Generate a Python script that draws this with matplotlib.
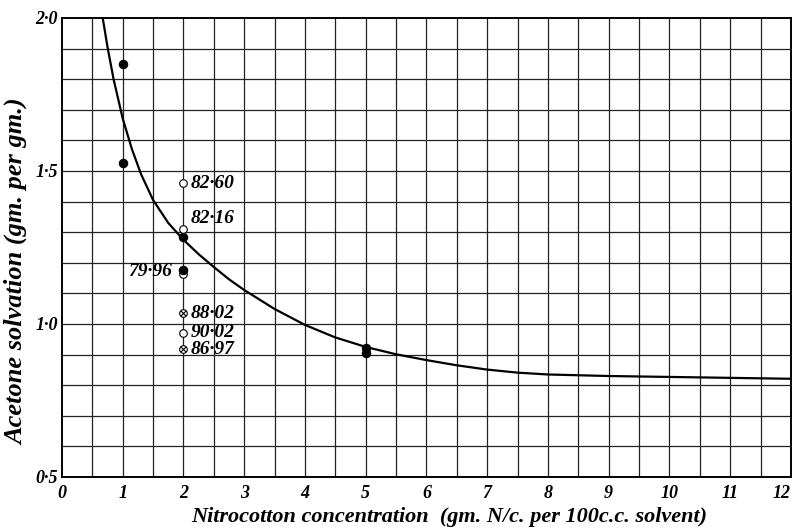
import matplotlib
matplotlib.use("Agg")
import matplotlib.pyplot as plt
import numpy as np

# smooth curve
curve_x = [0.67, 0.70, 0.75, 0.85, 1.0, 1.15, 1.3, 1.5, 1.75, 2.0, 2.25, 2.5, 2.75, 3.0,
           3.5, 4.0, 4.5, 5.0, 5.5, 6.0, 6.5, 7.0, 7.5, 8.0, 9.0, 10.0, 11.0, 12.0]
curve_y = [2.000, 1.964, 1.904, 1.799, 1.671, 1.572, 1.490, 1.405, 1.330, 1.275, 1.228,
           1.186, 1.146, 1.111, 1.049, 0.997, 0.956, 0.925, 0.901, 0.882, 0.865, 0.851,
           0.841, 0.835, 0.830, 0.827, 0.824, 0.821]

# filled points
solid_x = [1, 1, 2, 2, 5, 5]
solid_y = [1.849, 1.527, 1.283, 1.178, 0.921, 0.904]

# open points
open_x = [2, 2, 2, 2]
open_y = [1.460, 1.309, 0.972, 1.163]

# crossed points
cross_x = [2, 2]
cross_y = [1.035, 0.919]

# labels next to points
lab_text = ["82·60", "82·16", "79·96", "88·02", "90·02", "86·97"]
lab_x = [2.12, 2.12, 1.82, 2.12, 2.12, 2.12]
lab_y = [1.460, 1.345, 1.170, 1.035, 0.972, 0.917]
lab_ha = ["left", "left", "right", "left", "left", "left"]

xticks = list(range(0, 13))
yticks = [0.5, 1.0, 1.5, 2.0]
ytick_labels = ["0·5", "1·0", "1·5", "2·0"]

fnt = "Liberation Serif"

fig = plt.figure(figsize=(7.94, 5.29), dpi=100)
ax = fig.add_axes([0.0781, 0.0983, 0.918, 0.8677])

# grid
for gx in np.arange(0.5, 12, 0.5):
    ax.axvline(gx, color="#222222", lw=0.9, zorder=1)
for gy in np.arange(0.6, 2.0, 0.1):
    ax.axhline(gy, color="#222222", lw=0.9, zorder=1)

ax.plot(curve_x, curve_y, color="black", lw=1.6, zorder=3,
        solid_joinstyle="round", solid_capstyle="round")

ax.scatter(open_x[3:], open_y[3:], s=30, facecolors="white", edgecolors="black", lw=0.8, zorder=4)
ax.scatter(solid_x, solid_y, s=34, color="black", zorder=5)
ax.scatter(open_x[:3], open_y[:3], s=30, facecolors="white", edgecolors="black", lw=0.8, zorder=5)
ax.scatter(cross_x, cross_y, s=30, facecolors="white", edgecolors="black", lw=0.8, zorder=5)
ax.scatter(cross_x, cross_y, s=14, marker="x", color="black", lw=0.8, zorder=6)

for t, x, y, ha in zip(lab_text, lab_x, lab_y, lab_ha):
    ax.text(x, y, t, ha=ha, va="center", fontsize=14, fontfamily=fnt,
            fontweight="bold", fontstyle="italic", zorder=6)

ax.set_xlim(0, 12)
ax.set_ylim(0.5, 2.0)
ax.set_xticks(xticks)
ax.set_xticklabels([str(v) for v in xticks])
ax.set_yticks(yticks)
ax.set_yticklabels(ytick_labels)
ax.tick_params(axis="x", length=0, pad=6)
ax.tick_params(axis="y", length=0, pad=3)
for lab in ax.get_xticklabels() + ax.get_yticklabels():
    lab.set_fontfamily(fnt)
    lab.set_fontweight("bold")
    lab.set_fontstyle("italic")
    lab.set_fontsize(13)
ax.get_xticklabels()[-1].set_horizontalalignment("right")
for sp in ax.spines.values():
    sp.set_linewidth(1.4)

ax.set_xlabel("Nitrocotton concentration  (gm. N/c. per 100c.c. solvent)",
              fontfamily=fnt, fontstyle="italic", fontweight="bold", fontsize=16, labelpad=2)
ax.xaxis.set_label_coords(0.531, -0.065)
ax.set_ylabel("Acetone solvation (gm. per gm.)",
              fontfamily=fnt, fontstyle="italic", fontweight="bold", fontsize=19, labelpad=6)
ax.yaxis.set_label_coords(-0.046, 0.447)

fig.savefig("out.png", dpi=100)
